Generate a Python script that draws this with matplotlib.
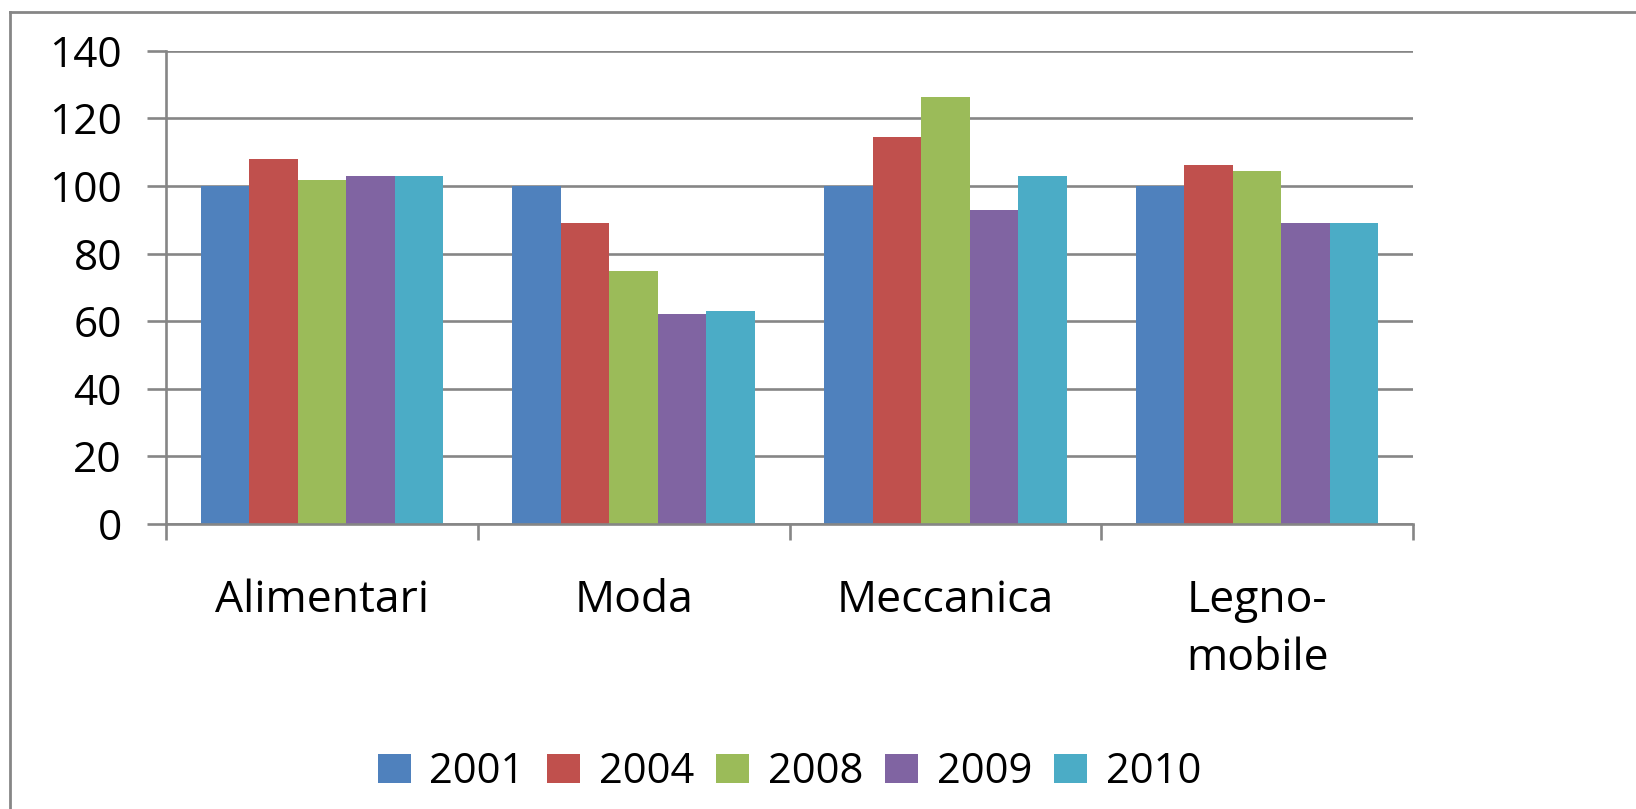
import numpy as np
import matplotlib
matplotlib.use("Agg")
import matplotlib.pyplot as plt
from matplotlib.lines import Line2D

# Index values (2001 = 100) by sector and year
categories = ["Alimentari", "Moda", "Meccanica", "Legno-\nmobile"]
years = ["2001", "2004", "2008", "2009", "2010"]
values_2001 = [100.0, 100.0, 100.0, 100.0]
values_2004 = [108.1, 89.1, 114.6, 106.3]
values_2008 = [101.9, 74.9, 126.2, 104.5]
values_2009 = [102.8, 62.1, 93.0, 89.1]
values_2010 = [102.8, 63.0, 102.8, 89.1]
series = [values_2001, values_2004, values_2008, values_2009, values_2010]
colors = ["#4F81BD", "#C0504D", "#9BBB59", "#8064A2", "#4BACC6"]
yticks = [0, 20, 40, 60, 80, 100, 120, 140]

plt.rcParams["font.family"] = ["Open Sans", "DejaVu Sans"]

W, H = 1636, 809
fig = plt.figure(figsize=(W / 100, H / 100), dpi=100)
ax = fig.add_axes([166 / W, 1 - 524 / H, (1413 - 166) / W, (524 - 50.7) / H])

grey = "#868686"
x = np.arange(len(categories))
bar_w = 0.1556
for i, (yr, vals, c) in enumerate(zip(years, series, colors)):
    ax.bar(x + (i - 2) * bar_w, vals, bar_w, color=c, label=yr, linewidth=0)

ax.set_xlim(-0.5, len(categories) - 0.5)
ax.set_ylim(0, 140)
ax.set_yticks(yticks)
ax.yaxis.grid(True, color=grey, linewidth=1.9)
ax.set_axisbelow(True)
for side in ("top", "right"):
    ax.spines[side].set_visible(False)
for side in ("left", "bottom"):
    ax.spines[side].set_color(grey)
    ax.spines[side].set_linewidth(1.9)

ax.tick_params(axis="y", length=13.7, width=1.9, color=grey, pad=18,
               labelsize=30.5)
ax.set_xticks(x, categories)
ax.tick_params(axis="x", which="major", length=0, pad=39, labelsize=32)
ax.set_xticks(np.arange(-0.5, len(categories), 1), minor=True)
ax.tick_params(axis="x", which="minor", length=11.5, width=1.9, color=grey)
for lbl in ax.get_xticklabels():
    lbl.set_linespacing(1.42)

fig.legend(loc="center", bbox_to_anchor=(789.5 / W, 1 - 772 / H), ncol=5,
           frameon=False, fontsize=30, handlelength=0.79, handleheight=0.67,
           handletextpad=0.45, columnspacing=0.53)

# Chart-area frame (left and top edges)
fig.add_artist(Line2D([10 / W, 10 / W], [0, 1 - 12 / H],
                      transform=fig.transFigure, color=grey, lw=2))
fig.add_artist(Line2D([10 / W, 1], [1 - 12 / H, 1 - 12 / H],
                      transform=fig.transFigure, color=grey, lw=2))

fig.savefig("out.png", dpi=100)
